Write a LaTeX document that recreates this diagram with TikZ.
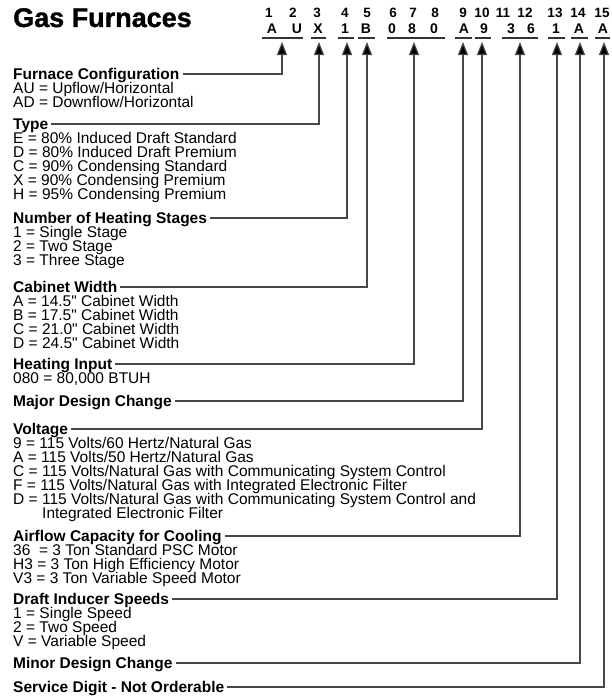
\documentclass[tikz,border=0pt]{standalone}
\usepackage{fontspec}
\setmainfont{Liberation Sans}[Ligatures=TeXOff]
\newfontfamily\heavy{Liberation Sans Bold}[FakeBold=1.2]
\usetikzlibrary{arrows.meta}
\begin{document}
\begin{tikzpicture}[x=1pt,y=-1pt,
  head/.style={font=\bfseries\fontsize{15.5}{14}\selectfont, anchor=west, inner xsep=3pt, inner ysep=0pt, text height=10.8pt, text depth=0pt},
  body/.style={font=\fontsize{15.5}{14}\selectfont, anchor=base west, inner sep=0pt},
  dig/.style={font=\bfseries\fontsize{13.5}{13.5}\selectfont, anchor=base, inner sep=0pt},
  let/.style={font=\bfseries\fontsize{14}{14}\selectfont, anchor=base, inner sep=0pt},
  uline/.style={line width=1.2pt, black!80},
  conn/.style={draw=black!72, line width=1.2pt, -{Triangle[length=13pt,width=10pt,fill=black]}}]
\useasboundingbox (0,0) rectangle (611,696);

% title
\node[anchor=base west, inner sep=0pt, font=\heavy\fontsize{27}{27}\selectfont] (title) at (13,27) {Gas Furnaces};

% digit positions
\foreach \d/\x in {1/269,2/293,3/317,4/345,5/367,6/393,7/413,8/435,9/463,10/482,11/503,12/525,13/555,14/578,15/602}
  \node[dig] (d\d) at (\x,17) {\d};
% code letters
\foreach \c/\x [count=\i] in {A/272,U/297,X/318,1/345,B/366,0/392,8/412,0/434,A/464,9/484,3/511,6/531,1/556,A/579,A/603}
  \node[let] (l\i) at (\x,33) {\c};
% underlines
\foreach \a/\b in {262/303,311/326,338/354,358/375,387/445,455/472,475/491,502/538,548/565,571/588,595/610}
  \draw[uline] (\a,38) -- (\b,38);

% arrow tips
\foreach \n/\x in {1/282,2/319,3/347,4/367,5/414,6/463,7/482,8/520,9/557,10/580,11/604}
  \coordinate (t\n) at (\x,42);

% headings
\node[head] (h1) at (10,74) {Furnace Configuration};
\node[head] (h2) at (10,124) {Type};
\node[head] (h3) at (10,218) {Number of Heating Stages};
\node[head] (h4) at (10,287) {Cabinet Width};
\node[head] (h5) at (10,364) {Heating Input};
\node[head] (h6) at (10,401) {Major Design Change};
\node[head] (h7) at (10,429) {Voltage};
\node[head] (h8) at (10,536) {Airflow Capacity for Cooling};
\node[head] (h9) at (10,599) {Draft Inducer Speeds};
\node[head] (h10) at (10,663) {Minor Design Change};
\node[head] (h11) at (10,687) {Service Digit - Not Orderable};

% bodies
\foreach \t [count=\i] in {{AU = Upflow/Horizontal},{AD = Downflow/Horizontal}}
  \node[body] (fc\i) at (13,{93.4+14*(\i-1)}) {\t};
\foreach \t [count=\i] in {{E = 80\% Induced Draft Standard},{D = 80\% Induced Draft Premium},{C = 90\% Condensing Standard},{X = 90\% Condensing Premium},{H = 95\% Condensing Premium}}
  \node[body] (ty\i) at (13,{143.4+14*(\i-1)}) {\t};
\foreach \t [count=\i] in {{1 = Single Stage},{2 = Two Stage},{3 = Three Stage}}
  \node[body] (st\i) at (13,{237.4+14*(\i-1)}) {\t};
\foreach \t [count=\i] in {{A = 14.5" Cabinet Width},{B = 17.5" Cabinet Width},{C = 21.0" Cabinet Width},{D = 24.5" Cabinet Width}}
  \node[body] (cw\i) at (13,{306.4+14*(\i-1)}) {\t};
\node[body] (hi1) at (13,383.4) {080 = 80,000 BTUH};
\foreach \t [count=\i] in {{9 = 115 Volts/60 Hertz/Natural Gas},{A = 115 Volts/50 Hertz/Natural Gas},{C = 115 Volts/Natural Gas with Communicating System Control},{F = 115 Volts/Natural Gas with Integrated Electronic Filter},{D = 115 Volts/Natural Gas with Communicating System Control and}}
  \node[body] (vo\i) at (13,{448.4+14*(\i-1)}) {\t};
\node[body] (vo6) at (42,518.4) {Integrated Electronic Filter};
\foreach \t [count=\i] in {{36 \ = 3 Ton Standard PSC Motor},{H3 = 3 Ton High Efficiency Motor},{V3 = 3 Ton Variable Speed Motor}}
  \node[body] (ac\i) at (13,{555.4+14*(\i-1)}) {\t};
\foreach \t [count=\i] in {{1 = Single Speed},{2 = Two Speed},{V = Variable Speed}}
  \node[body] (ds\i) at (13,{618.4+14*(\i-1)}) {\t};

% connectors
\foreach \n in {1,...,11}
  \draw[conn] (h\n.east) -| (t\n);
\end{tikzpicture}
\end{document}
